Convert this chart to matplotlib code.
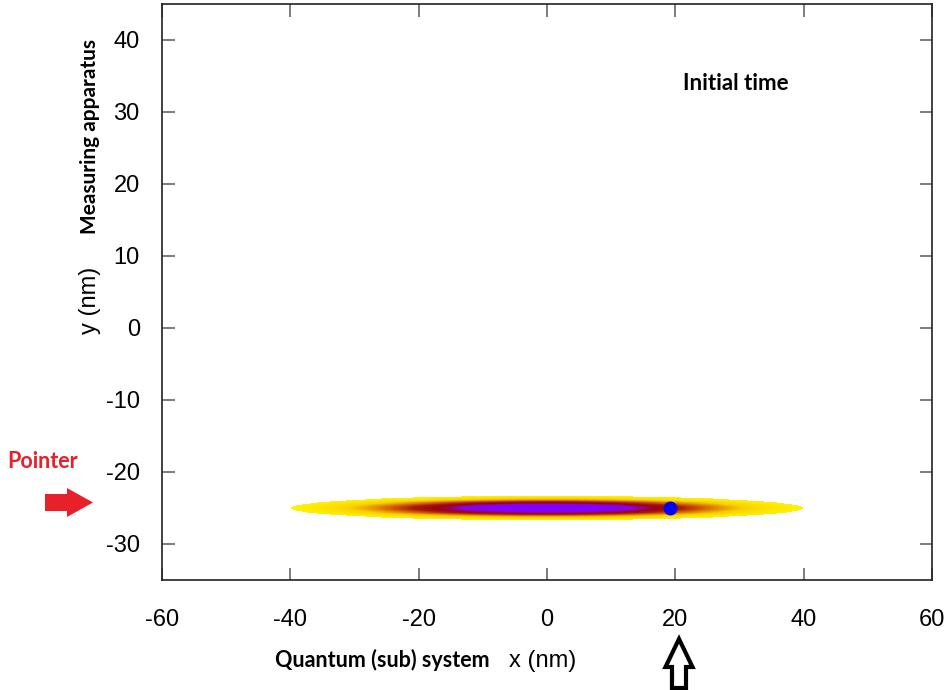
import numpy as np
import matplotlib
matplotlib.use('Agg')
import matplotlib.pyplot as plt
from matplotlib.colors import LinearSegmentedColormap
from matplotlib.patches import FancyArrow

plt.rcParams['axes.unicode_minus'] = False

# pointer wave packet at initial time
x0, y0 = 0.0, -25.0
sig_x, sig_y = 16.0, 0.68
cut = 0.044
dot_x, dot_y = 19.2, -25.0

x_ticks = [-60, -40, -20, 0, 20, 40, 60]
y_ticks = [-30, -20, -10, 0, 10, 20, 30, 40]

col_pos = [0.0, 0.12, 0.26, 0.40, 0.54, 0.62, 0.70, 1.0]
col_hex = ['#fff000', '#f8d000', '#d86a00', '#a81c00', '#9c0010', '#940070', '#8400f0', '#8000ff']
cmap = LinearSegmentedColormap.from_list('pk', list(zip(col_pos, col_hex)))

xs = np.linspace(-45, 45, 361)
ys = np.linspace(-28, -22, 121)
X, Y = np.meshgrid(xs, ys)
D = np.exp(-(X - x0)**2 / (2 * sig_x**2) - (Y - y0)**2 / (2 * sig_y**2))
D = np.ma.masked_less(D, cut)

W, H = 950, 690
fig = plt.figure(figsize=(W / 100, H / 100), dpi=100)
ax = fig.add_axes([162 / W, 1 - 580 / H, 770 / W, 576 / H])

ax.pcolormesh(X, Y, D, cmap=cmap, vmin=cut, vmax=1.0, shading='auto')
ax.plot(dot_x, dot_y, 'o', color='#0000ff', ms=9)

ax.set_xlim(-60, 60)
ax.set_ylim(-35, 45)
ax.set_xticks(x_ticks)
ax.set_yticks(y_ticks)
for lab in ax.get_xticklabels() + ax.get_yticklabels():
    lab.set_family('Liberation Sans')
ax.tick_params(direction='in', length=9, width=1.2, color='#666666', labelcolor='black',
               labelsize=17, top=True, right=True)
ax.tick_params(axis='x', pad=21)
ax.tick_params(axis='y', pad=16)
for s in ax.spines.values():
    s.set_color('#222222')
    s.set_linewidth(1.2)

ax.text(29.5, 34, 'Initial time', ha='center', va='center', fontsize=16,
        fontweight='bold', family='Lato')

# annotations in pixel space
ov = fig.add_axes([0, 0, 1, 1], zorder=5)
ov.set_xlim(0, W)
ov.set_ylim(H, 0)
ov.axis('off')
ov.patch.set_alpha(0)

ov.text(43, 462, 'Pointer', color='#e8202a', fontsize=15.5, fontweight='bold',
        family='Lato', ha='center', va='center')
ov.add_patch(FancyArrow(45, 502.5, 48, 0, width=17, head_width=29, head_length=26,
                        length_includes_head=True, color='#e8202a', lw=0))
ov.add_patch(FancyArrow(679, 688, 0, -49, width=14, head_width=27, head_length=28,
                        length_includes_head=True, fc='white', ec='black', lw=3))

ov.text(90, 137, 'Measuring apparatus', rotation=90, fontsize=15, fontweight='bold',
        family='Lato', ha='center', va='center')
ov.text(90, 300, 'y (nm)', rotation=90, fontsize=17, family='Liberation Sans',
        ha='center', va='center')
ov.text(382, 660, 'Quantum (sub) system', fontsize=15.5, fontweight='bold',
        family='Lato', ha='center', va='center')
ov.text(543, 661, 'x (nm)', fontsize=17, family='Liberation Sans',
        ha='center', va='center')

fig.savefig('out.png', dpi=100)
